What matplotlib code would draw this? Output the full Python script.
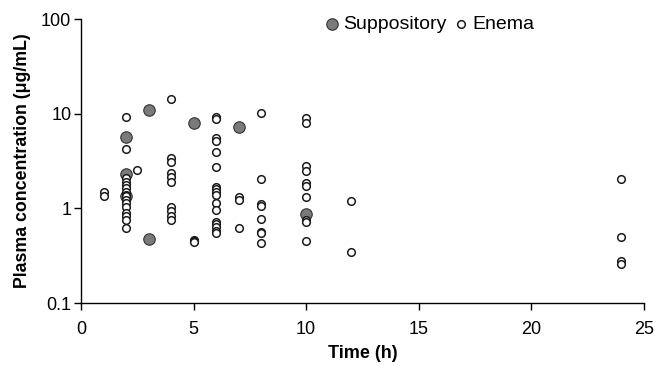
import matplotlib
matplotlib.use("Agg")
import matplotlib.pyplot as plt

plt.rcParams['font.family'] = ['Liberation Sans', 'DejaVu Sans']

# Suppository (filled markers)
supp_time = [2, 2, 2, 3, 3, 5, 7, 10]
supp_conc = [5.7, 2.3, 1.36, 10.9, 0.47, 7.9, 7.3, 0.87]

# Enema (open markers), grouped by sampling time
enema_groups = {
    1: [1.50, 1.36],
    2: [9.2, 4.2, 2.07, 1.91, 1.76, 1.63, 1.50, 1.37, 1.35, 1.22, 1.13, 1.04,
        0.90, 0.84, 0.75, 0.62],
    2.5: [2.54],
    4: [14.2, 3.37, 3.08, 2.34, 2.16, 1.91, 1.03, 0.93, 0.83, 0.75],
    5: [0.46, 0.45, 0.44],
    6: [9.2, 8.8, 5.5, 5.2, 3.95, 2.72, 1.70, 1.60, 1.50, 1.40, 1.15, 0.95,
        0.72, 0.68, 0.63, 0.58, 0.55],
    7: [1.33, 1.22, 0.615],
    8: [10.2, 2.04, 1.11, 1.065, 0.765, 0.567, 0.545, 0.427],
    10: [8.9, 7.9, 2.78, 2.47, 1.87, 1.72, 1.33, 0.75, 0.72, 0.455],
    12: [1.20, 0.343],
    24: [2.04, 0.494, 0.277, 0.256],
}
enema_time = [t for t, vals in enema_groups.items() for _ in vals]
enema_conc = [v for vals in enema_groups.values() for v in vals]

fig = plt.figure(figsize=(6.55, 3.66), dpi=100)
ax = fig.add_axes([0.1237, 0.172, 0.8593, 0.776])

ax.scatter(supp_time, supp_conc, s=68, facecolors='#7a7a7a', edgecolors='#333333',
           linewidths=0.8, label='Suppository', zorder=3)
ax.scatter(enema_time, enema_conc, s=30, facecolors='white', edgecolors='#1a1a1a',
           linewidths=1.1, label='Enema', zorder=4)

ax.set_yscale('log')
ax.set_xlim(0, 25)
ax.set_ylim(0.1, 100)
ax.set_xticks([0, 5, 10, 15, 20, 25])
ax.set_yticks([0.1, 1, 10, 100])
ax.set_yticklabels(['0.1', '1', '10', '100'])
ax.minorticks_off()
ax.tick_params(axis='both', labelsize=13, length=5, width=1, direction='out')
ax.tick_params(axis='x', pad=8)
ax.tick_params(axis='y', pad=2)

for side in ['top', 'right']:
    ax.spines[side].set_visible(False)
for side in ['left', 'bottom']:
    ax.spines[side].set_linewidth(1)

ax.set_xlabel('Time (h)', fontsize=13, fontweight='bold', labelpad=5)
ax.set_ylabel('Plasma concentration (μg/mL)', fontsize=12.8, fontweight='bold', labelpad=7)

ax.legend(loc='upper left', bbox_to_anchor=(0.414, 1.04),
          ncol=2, frameon=False, fontsize=14, handletextpad=0.12, columnspacing=0.2,
          borderaxespad=0, handlelength=1.0)

fig.savefig('out.png', dpi=100)
